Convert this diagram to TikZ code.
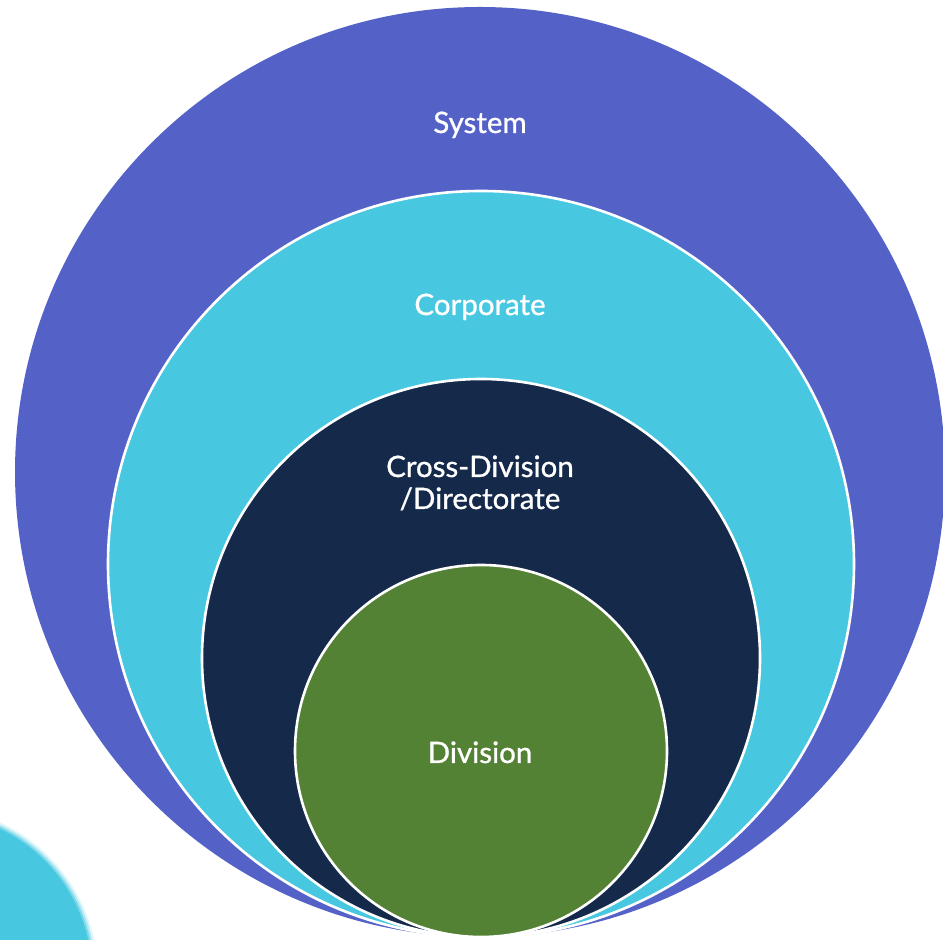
\documentclass[tikz,border=0pt]{standalone}
\usepackage{fontspec}
\setmainfont{Lato}[FakeBold=0.9]
\definecolor{systemblue}{HTML}{5462C8}
\definecolor{corpcyan}{HTML}{48C8E0}
\definecolor{crossnavy}{HTML}{15294A}
\definecolor{divgreen}{HTML}{548235}
\begin{document}
\begin{tikzpicture}[x=1pt,y=1pt,
  ring/.style={draw=white,line width=2.6pt},
  lbl/.style={text=white,font=\fontsize{29.5}{32}\selectfont,anchor=base,align=center,inner sep=0pt}]
\useasboundingbox (0,0) rectangle (943,940);
\clip (0,0) rectangle (943,940);
% soft-edged cyan disc in the lower left corner
\foreach \r/\o in {168/0.15,166/0.3,164/0.55,162/1}
  \fill[corpcyan,opacity=\o] (-70,-35) circle (\r);
% nested levels, all touching at the bottom
\fill[systemblue] (480,468) circle (465);
\path[ring,fill=corpcyan] (481,376) circle (373);
\path[ring,fill=crossnavy] (481,282) circle (279);
\path[ring,fill=divgreen] (481,189) circle (186);
% level names
\node[lbl] (system) at (480,807) {System};
\node[lbl] (corporate) at (480,625) {Corporate};
\node[lbl] (cross) at (480,463) {Cross-Division};
\node[lbl] (directorate) at (480,431) {/Directorate};
\node[lbl] (division) at (480,177) {Division};
\end{tikzpicture}
\end{document}
